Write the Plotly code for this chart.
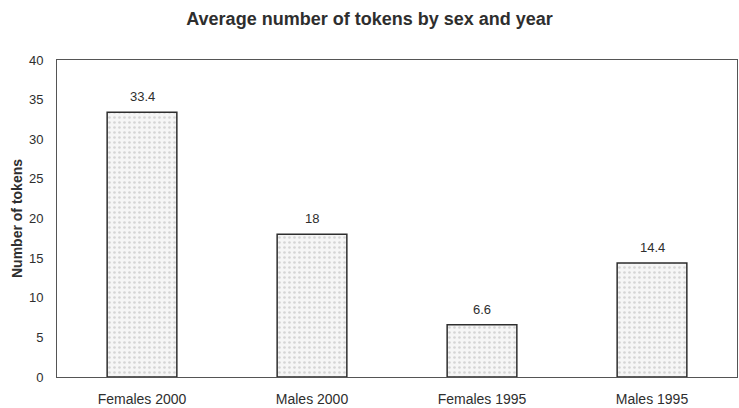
import plotly.graph_objects as go

# Average number of tokens per speaker group
groups = ["Females 2000", "Males 2000", "Females 1995", "Males 1995"]
avg_tokens = [33.4, 18, 6.6, 14.4]
y_ticks = [0, 5, 10, 15, 20, 25, 30, 35, 40]

FONT = "Liberation Sans, Arial, sans-serif"
INK = "#2e2e2e"

fig = go.Figure()
fig.add_trace(go.Bar(
    x=groups,
    y=avg_tokens,
    marker=dict(
        color="#f3f3f3",
        line=dict(color=INK, width=1.5),
        pattern=dict(shape=".", fgcolor="#b4b4b4", bgcolor="#f6f6f6",
                     size=5, solidity=0.22),
    ),
    hoverinfo="x+y",
))

# value labels above each bar
for g, v in zip(groups, avg_tokens):
    fig.add_annotation(
        x=g, y=v, text=f"{v:g}", showarrow=False,
        yanchor="bottom", yshift=6,
        font=dict(family=FONT, size=13, color=INK),
    )

fig.update_layout(
    width=739, height=408,
    margin=dict(l=57, r=1, t=60, b=26),
    paper_bgcolor="white", plot_bgcolor="white",
    bargap=0.59,
    showlegend=False,
    title=dict(
        text="<b>Average number of tokens by sex and year</b>",
        x=0.5, xanchor="center", y=0.953, yanchor="middle",
        font=dict(family=FONT, size=18, color=INK),
    ),
    font=dict(family=FONT, size=12, color=INK),
)

fig.update_xaxes(
    showline=True, linecolor="#555555", linewidth=1, mirror=True,
    showgrid=False, ticks="", ticklabelstandoff=9,
    tickfont=dict(family=FONT, size=14, color=INK),
)
fig.update_yaxes(
    range=[0, 40], tickvals=y_ticks,
    showline=True, linecolor="#555555", linewidth=1, mirror=True,
    showgrid=False, zeroline=False, ticks="", ticklabelstandoff=10,
    tickfont=dict(family=FONT, size=13, color=INK),
    title=dict(text="<b>Number of tokens</b>", standoff=3,
               font=dict(family=FONT, size=14, color=INK)),
)

fig.write_html("out.html")
